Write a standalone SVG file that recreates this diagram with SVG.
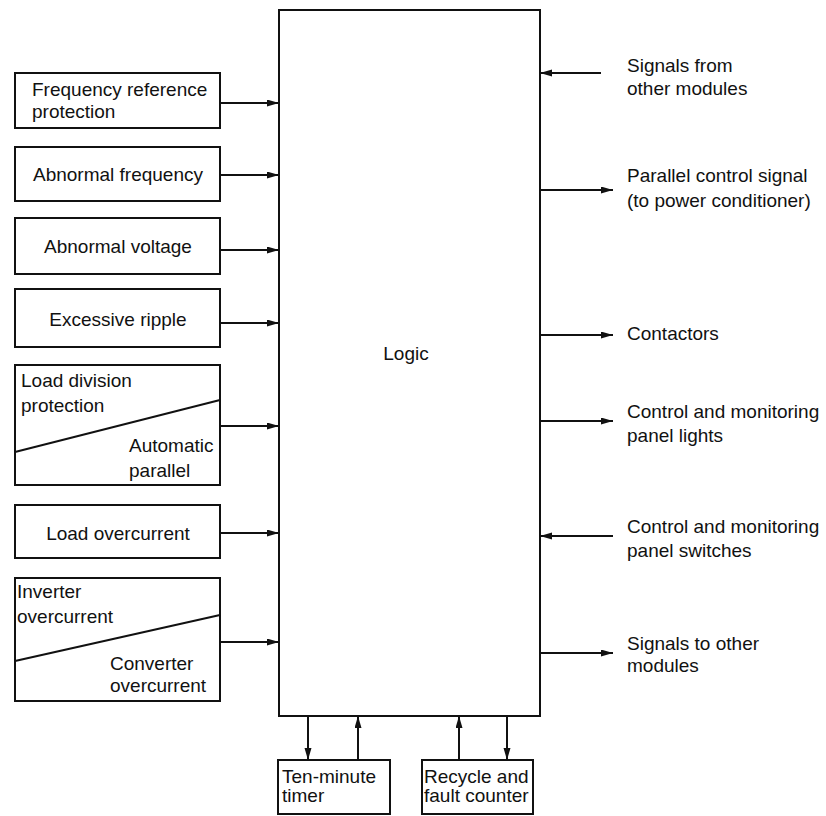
<svg xmlns="http://www.w3.org/2000/svg" width="826" height="816" viewBox="0 0 826 816">
<style>
.box{fill:#fff;stroke:#111;stroke-width:2}
.ln{fill:none;stroke:#111;stroke-width:2}
text{font-family:"Liberation Sans Narrow","Liberation Sans",Arial,sans-serif;font-size:19px;fill:#111}
.c{text-anchor:middle}
</style>
<defs>
<marker id="ah" markerUnits="userSpaceOnUse" markerWidth="13" markerHeight="8" refX="12" refY="3.5" orient="auto">
<path d="M0,0 L12,3.5 L0,7 z" fill="#111"/>
</marker>
</defs>
<rect width="826" height="816" fill="#fff"/>
<g id="logic"><rect class="box" x="279" y="10" width="261" height="706"/><text class="c" x="406" y="360">Logic</text></g>
<g id="freqref"><rect class="box" x="15" y="73" width="205" height="55"/><text x="32" y="96">Frequency reference</text><text x="32" y="118">protection</text></g>
<g id="abfreq"><rect class="box" x="15" y="147" width="205" height="54"/><text class="c" x="118" y="181">Abnormal frequency</text></g>
<g id="abvolt"><rect class="box" x="15" y="218" width="205" height="56"/><text class="c" x="118" y="253">Abnormal voltage</text></g>
<g id="ripple"><rect class="box" x="15" y="289" width="205" height="58"/><text class="c" x="118" y="326">Excessive ripple</text></g>
<g id="loaddiv"><rect class="box" x="15" y="365" width="205" height="120"/><line class="ln" x1="15" y1="452" x2="220" y2="400"/><text x="21" y="387">Load division</text><text x="21" y="412">protection</text><text x="129" y="452">Automatic</text><text x="129" y="477">parallel</text></g>
<g id="loadoc"><rect class="box" x="15" y="505" width="205" height="53"/><text class="c" x="118" y="540">Load overcurrent</text></g>
<g id="invoc"><rect class="box" x="15" y="578" width="205" height="123"/><line class="ln" x1="15" y1="661" x2="220" y2="615"/><text x="17" y="598">Inverter</text><text x="17" y="623">overcurrent</text><text x="110" y="670">Converter</text><text x="110" y="692">overcurrent</text></g>
<g id="timer"><rect class="box" x="278" y="760" width="112" height="54"/><text x="282" y="783">Ten-minute</text><text x="282" y="802">timer</text></g>
<g id="recycle"><rect class="box" x="422" y="760" width="111" height="54"/><text x="424" y="783">Recycle and</text><text x="424" y="802">fault counter</text></g>
<g id="labels">
<text x="627" y="72">Signals from</text><text x="627" y="95">other modules</text>
<text x="627" y="182">Parallel control signal</text><text x="627" y="207">(to power conditioner)</text>
<text x="627" y="340">Contactors</text>
<text x="627" y="418">Control and monitoring</text><text x="627" y="442">panel lights</text>
<text x="627" y="533">Control and monitoring</text><text x="627" y="557">panel switches</text>
<text x="627" y="650">Signals to other</text><text x="627" y="672">modules</text>
</g>
<g id="connectors">
<line class="ln" x1="220" y1="103" x2="279" y2="103" marker-end="url(#ah)"/>
<line class="ln" x1="220" y1="175" x2="279" y2="175" marker-end="url(#ah)"/>
<line class="ln" x1="220" y1="250" x2="279" y2="250" marker-end="url(#ah)"/>
<line class="ln" x1="220" y1="323" x2="279" y2="323" marker-end="url(#ah)"/>
<line class="ln" x1="220" y1="426" x2="279" y2="426" marker-end="url(#ah)"/>
<line class="ln" x1="220" y1="533" x2="279" y2="533" marker-end="url(#ah)"/>
<line class="ln" x1="220" y1="642" x2="279" y2="642" marker-end="url(#ah)"/>
<line class="ln" x1="601" y1="73" x2="540" y2="73" marker-end="url(#ah)"/>
<line class="ln" x1="540" y1="190" x2="613" y2="190" marker-end="url(#ah)"/>
<line class="ln" x1="540" y1="335" x2="613" y2="335" marker-end="url(#ah)"/>
<line class="ln" x1="540" y1="421" x2="613" y2="421" marker-end="url(#ah)"/>
<line class="ln" x1="613" y1="536" x2="540" y2="536" marker-end="url(#ah)"/>
<line class="ln" x1="540" y1="653" x2="613" y2="653" marker-end="url(#ah)"/>
<line class="ln" x1="308" y1="716" x2="308" y2="760" marker-end="url(#ah)"/>
<line class="ln" x1="358" y1="760" x2="358" y2="716" marker-end="url(#ah)"/>
<line class="ln" x1="459" y1="760" x2="459" y2="716" marker-end="url(#ah)"/>
<line class="ln" x1="507" y1="716" x2="507" y2="760" marker-end="url(#ah)"/>
</g>
</svg>
